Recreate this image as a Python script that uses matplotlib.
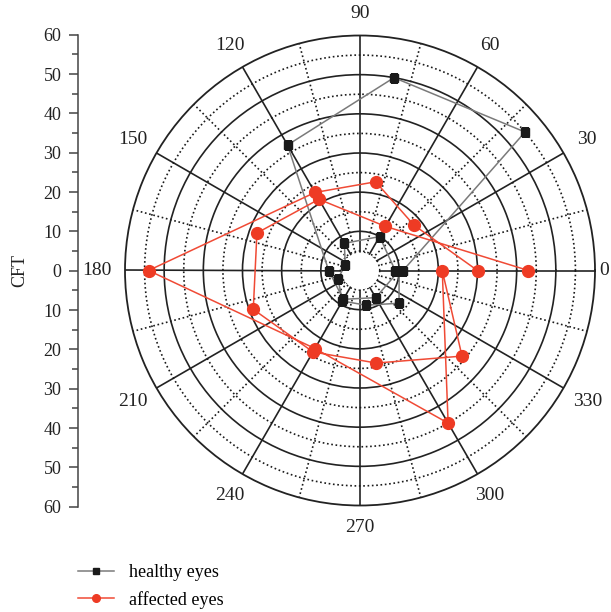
import numpy as np
import matplotlib
matplotlib.use('Agg')
import matplotlib.pyplot as plt
from matplotlib.lines import Line2D

# angle (deg) of each point, in the order the points are joined
theta_deg = [0, 60, 120, 160, 200, 240, 280, 320, 360, 300, 240, 180, 120, 80, 40, 0]
healthy_cft = [9, 10, 8, 4, 6, 9, 9, 13, 10, 8, 8.5, 8, 37, 50, 55, 11]
affected_cft = [43, 13, 21, 28, 29, 24, 24, 34, 21, 45, 23, 54, 23, 23, 18, 30]

angle_labels = list(range(0, 360, 30))
cft_ticks = list(range(-60, 61, 10))
series_names = ['healthy eyes', 'affected eyes']

W, H = 611, 612
FS = 13
plt.rcParams['font.family'] = ['Liberation Serif', 'DejaVu Serif']


#...!...!....................
def plot_polar(fig):
    cx, cy, R = 360, 270.5, 235   # pixel centre / radius of the polar disc
    ax = fig.add_axes([(cx - R) / W, (H - cy - R) / H, 2 * R / W, 2 * R / H],
                      projection='polar')
    ax.set_ylim(0, 60)
    ax.set_xticks(np.radians(np.arange(0, 360, 30)))
    ax.set_xticks(np.radians(np.arange(15, 360, 30)), minor=True)
    ax.set_yticks([10, 20, 30, 40, 50])
    ax.set_yticks([5, 15, 25, 35, 45, 55], minor=True)
    ax.set_xticklabels([])
    ax.set_yticklabels([])
    ax.tick_params(which='both', length=0)
    ax.grid(True, which='major', color='#222222', lw=1.2, ls='-')
    ax.grid(True, which='minor', color='#1a1a1a', lw=1.2, ls=(0, (1.0, 1.6)))
    ax.spines['polar'].set_color('#222222')
    ax.spines['polar'].set_linewidth(1.3)

    # empty hole in the middle
    tt = np.linspace(0, 2 * np.pi, 200)
    ax.fill_between(tt, 0, 4.7, color='white', zorder=1.6, lw=0)

    th = np.radians(theta_deg)
    ax.plot(th, healthy_cft, '-', color='#7a7a7a', lw=1.1, zorder=3,
            marker='s', ms=6, mfc='#1a1a1a', mec='#1a1a1a')
    ax.plot(th, affected_cft, '-', color='#f04a35', lw=1.1, zorder=4,
            marker='o', ms=8.5, mfc='#ee3b24', mec='#ee3b24')

    for a in angle_labels:
        rr = 65.6 + 1.6 * abs(np.cos(np.radians(a)))
        if a == 0:
            rr = 62.4
        ax.text(np.radians(a), rr, str(a), ha='center', va='center',
                fontsize=14, color='#222222')
    return ax


#...!...!....................
def plot_cft_axis(fig):
    x0, ytop, ybot = 77.7, 34.7, 506.7
    ax2 = fig.add_axes([x0 / W, (H - ybot) / H, 0.0001, (ybot - ytop) / H])
    ax2.set_ylim(-60, 60)
    ax2.set_yticks(cft_ticks)
    ax2.set_yticklabels([str(abs(v)) for v in cft_ticks])
    ax2.set_yticks(np.arange(-55, 60, 10), minor=True)
    ax2.set_xticks([])
    for s in ['top', 'right', 'bottom']:
        ax2.spines[s].set_visible(False)
    ax2.spines['left'].set_color('#444444')
    ax2.spines['left'].set_linewidth(1.1)
    ax2.tick_params(axis='y', which='major', length=6.7, width=1.1, pad=5,
                    color='#444444', labelsize=FS, labelcolor='#222222')
    ax2.tick_params(axis='y', which='minor', length=4.3, width=1.1,
                    color='#444444')
    ax2.patch.set_visible(False)
    fig.text(20 / W, 1 - 270.5 / H, 'CFT', rotation=90, ha='center',
             va='center', fontsize=FS, color='#222222')


#=================================
#  M A I N
#=================================
if __name__ == '__main__':
    fig = plt.figure(figsize=(W / 100, H / 100), dpi=100, facecolor='white')
    plot_polar(fig)
    plot_cft_axis(fig)

    hdl = [Line2D([], [], color='#7a7a7a', lw=1.1, marker='s', ms=4,
                  mfc='#1a1a1a', mec='#1a1a1a'),
           Line2D([], [], color='#f04a35', lw=1.1, marker='o', ms=5.5,
                  mfc='#ee3b24', mec='#ee3b24')]
    fig.legend(hdl, series_names, loc='upper left',
               bbox_to_anchor=(78 / W, 1 - 564 / H), frameon=False,
               fontsize=FS, handlelength=2.0, handletextpad=0.8,
               labelspacing=0.55, borderpad=0, borderaxespad=0)

    outF = 'out.png'
    fig.savefig(outF, dpi=100, facecolor='white')
    print('saved:', outF)
